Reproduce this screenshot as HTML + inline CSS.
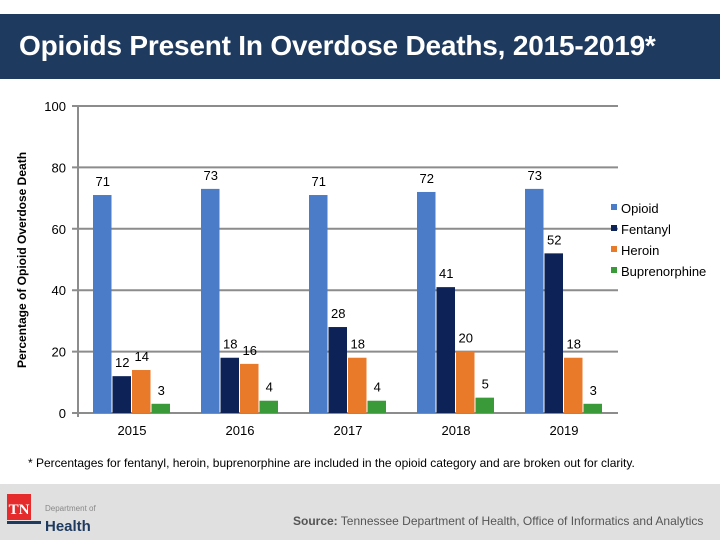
<!DOCTYPE html>
<html><head><meta charset="utf-8"><style>
body{margin:0;width:720px;height:540px;overflow:hidden;background:#fff;font-family:"Liberation Sans",sans-serif;position:relative}
.hdr{position:absolute;left:0;top:14px;width:720px;height:65px;background:#1e3a5f}
.hdr h1{margin:0;position:absolute;left:19px;top:16px;color:#fff;font-size:28px;font-weight:bold;letter-spacing:-0.2px;white-space:nowrap}
.foot{position:absolute;left:0;top:484px;width:720px;height:56px;background:#e0e0e0}
</style></head><body>
<div class="hdr"><h1>Opioids Present In Overdose Deaths, 2015-2019*</h1></div>
<svg id="chart" width="720" height="484" style="position:absolute;left:0;top:0">
<text x="0" y="0" transform="translate(26,260) rotate(-90)" text-anchor="middle" font-size="12" font-weight="bold" fill="#000">Percentage of Opioid Overdose Death</text>
<g id="grid"></g><g id="bars"></g><g id="labels"></g>
<g id="legend"></g>
<text x="28" y="467" font-size="12" fill="#000">*  Percentages for fentanyl, heroin, buprenorphine are included in the opioid category and are broken out for clarity.</text>
</svg>
<div class="foot">
<svg width="720" height="56">
<rect x="7" y="10" width="24" height="26" fill="#e52b2b"/>
<text x="19" y="30" text-anchor="middle" font-family="Liberation Serif" font-weight="bold" font-size="15" fill="#fff">TN</text>
<rect x="7" y="37" width="34" height="3" fill="#1e3a5f"/>
<text x="45" y="27" font-size="8" fill="#888">Department of</text>
<text x="45" y="47" font-size="15" font-weight="bold" fill="#1e3a5f">Health</text>
<text x="293" y="41" font-size="12" fill="#555"><tspan font-weight="bold">Source:</tspan> Tennessee Department of Health, Office of Informatics and Analytics</text>
</svg></div>
<script>
const years=["2015","2016","2017","2018","2019"];
const opioid=[71,73,71,72,73];
const fentanyl=[12,18,28,41,52];
const heroin=[14,16,18,20,18];
const bup=[3,4,4,5,3];
const yTicks=[0,20,40,60,80,100];
const seriesNames=["Opioid","Fentanyl","Heroin","Buprenorphine"];
const colors=["#4a7cc7","#0d2358","#e87a2a","#3a9a3a"];
const NS="http://www.w3.org/2000/svg";
const x0=78,x1=618,y0=413,y100=106;
const yS=v=>y0-(v/100)*(y0-y100);
const gw=(x1-x0)/years.length;
function mk(t,a,p){const e=document.createElementNS(NS,t);for(const k in a)e.setAttribute(k,a[k]);p.appendChild(e);return e;}
const grid=document.getElementById('grid');
yTicks.forEach(v=>{const l=mk('line',{x1:72,x2:x1,y1:yS(v),y2:yS(v),stroke:'#8c8c8c','stroke-width':2},grid);


const t=mk('text',{x:66,y:yS(v)+5,'text-anchor':'end','font-size':13,fill:'#000'},grid);t.textContent=v;

});
const ax=mk('line',{x1:x0,x2:x0,y1:y100,y2:y0+4,stroke:'#8c8c8c','stroke-width':2},grid);


const series=[opioid,fentanyl,heroin,bup];
const bars=document.getElementById('bars'),labs=document.getElementById('labels');
const bw=19.5;
years.forEach((yr,i)=>{const gx=x0+i*gw+15;
series.forEach((s,j)=>{const bx=gx+j*bw;
const r=mk('rect',{x:bx,y:yS(s[i]),width:bw-1,height:y0-yS(s[i]),fill:colors[j]},bars);


const t=mk('text',{x:bx+bw/2,y:yS(s[i])-9,'text-anchor':'middle','font-size':13,fill:'#000'},labs);t.textContent=s[i];

});
const t=mk('text',{x:x0+i*gw+gw/2,y:435,'text-anchor':'middle','font-size':13,fill:'#000'},labs);t.textContent=yr;

});
const lg=document.getElementById('legend');
seriesNames.forEach((n,j)=>{const y=208+j*21;
const r=mk('rect',{x:611,y:y-4,width:6,height:6,fill:colors[j]},lg);


const t=mk('text',{x:621,y:y+5,'font-size':13,fill:'#000'},lg);t.textContent=n;

});
</script>
</body></html>
